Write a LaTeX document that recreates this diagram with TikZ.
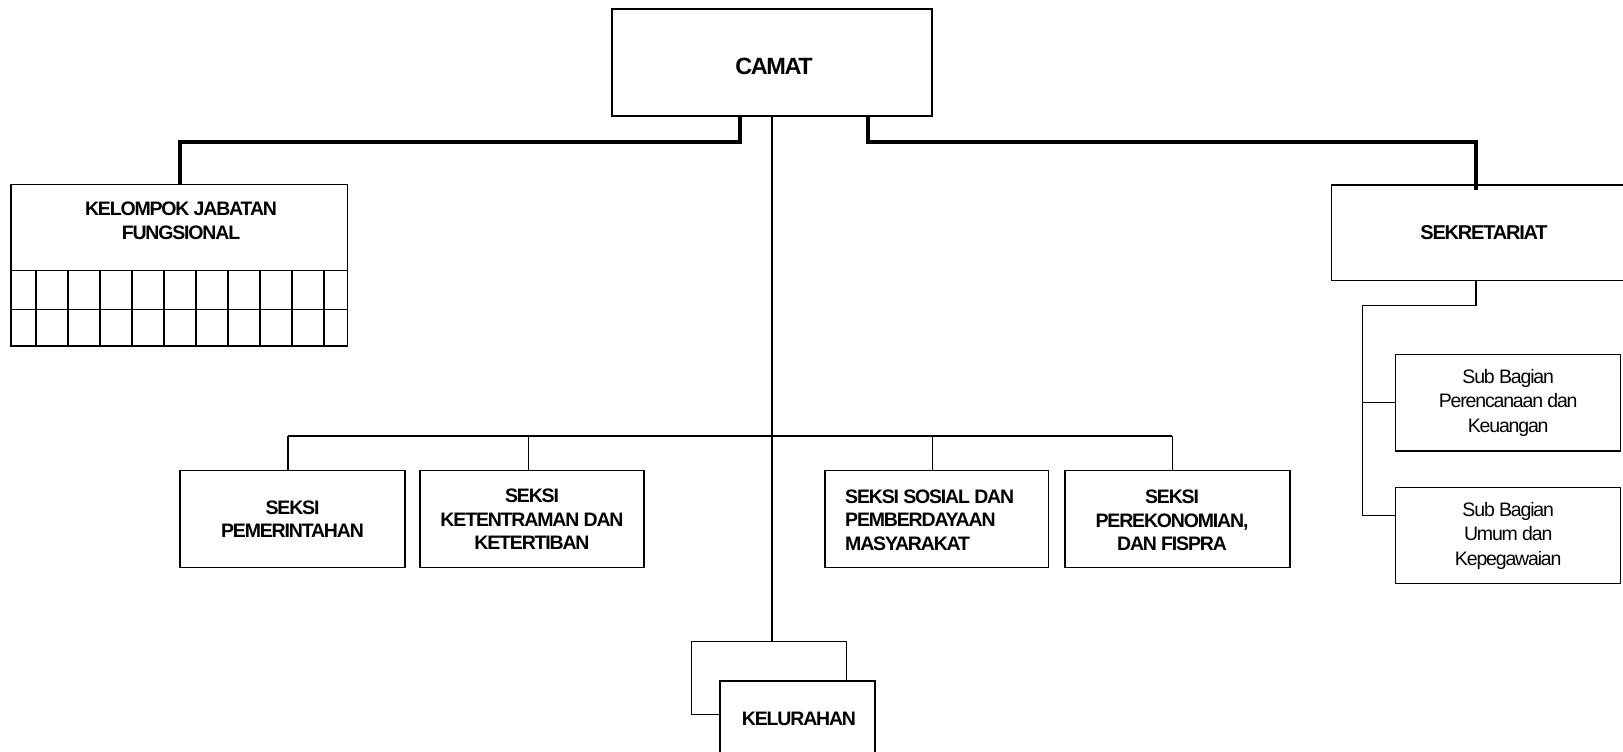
\documentclass[tikz,border=0pt]{standalone}
\usepackage{fontspec}
\setmainfont{Liberation Sans}
\newfontfamily\headfont[LetterSpace=-6]{Liberation Sans Bold}
\newfontfamily\subfont[LetterSpace=-6]{Liberation Sans}
\begin{document}
\begin{tikzpicture}[x=1pt,y=-1pt,
  box/.style={draw=black,line width=1.3pt,rectangle,inner sep=0pt,align=center,fill=white},
  headtext/.style={font=\headfont\fontsize{19.5}{23.5}\selectfont,align=center,inner sep=0pt},
  subtext/.style={font=\subfont\fontsize{19.5}{24.5}\selectfont,align=center,inner sep=0pt},
  thinline/.style={draw=black,line width=1.3pt},
  thickline/.style={draw=black,line width=3.3pt}]
\clip (0,0) rectangle (1623,752);
\fill[white] (0,0) rectangle (1623,752);

% top office
\node[box,minimum width=320pt,minimum height=107pt] (camat) at (772,62.5) {};
\node[headtext,font=\headfont\fontsize{23.5}{27}\selectfont] (camattext) at (774,66) {CAMAT};

% functional group, with its grid of posts
\node[box,minimum width=336.7pt,minimum height=161.7pt] (kjf) at (179.35,265.15) {};
\node[headtext] (kjftext) at (181,221) {KELOMPOK JABATAN\\FUNGSIONAL};
\draw[thinline] (kjf.west |- 0,270.7) -- (kjf.east |- 0,270.7);
\draw[thinline] (kjf.west |- 0,309.3) -- (kjf.east |- 0,309.3);
\foreach \k in {0,...,9}
  \draw[thinline] (36+32*\k,270.7) -- (36+32*\k,346);

% secretariat and its sub-sections
\node[box,minimum width=292.3pt,minimum height=95.7pt] (sek) at (1477.85,232.85) {};
\node[headtext,font=\headfont\fontsize{20}{24}\selectfont] (sektext) at (1484,233) {SEKRETARIAT};
\node[box,subtext,minimum width=225pt,minimum height=96.7pt] (sub1) at (1508.2,402.65)
  {Sub Bagian\\Perencanaan dan\\Keuangan};
\node[box,subtext,minimum width=225pt,minimum height=95.6pt] (sub2) at (1508.2,535.5)
  {Sub Bagian\\Umum dan\\Kepegawaian};

% sections
\node[box,headtext,minimum width=225pt,minimum height=97pt] (s1) at (292.5,519.2)
  {SEKSI\\PEMERINTAHAN};
\node[box,headtext,minimum width=224pt,minimum height=97pt] (s2) at (532,519.2)
  {SEKSI\\KETENTRAMAN DAN\\KETERTIBAN};
\node[box,minimum width=223.3pt,minimum height=97pt] (s3) at (936.65,519.2) {};
\node[headtext,align=left,anchor=west] (s3text) at (845,520)
  {SEKSI SOSIAL DAN\\PEMBERDAYAAN\\MASYARAKAT};
\node[box,headtext,minimum width=225pt,minimum height=97pt] (s4) at (1177.5,519.2) {};
\node[headtext] (s4text) at (1172,520.5) {SEKSI\\PEREKONOMIAN,\\DAN FISPRA};

% villages
\node[box,minimum width=155pt,minimum height=72.6pt] (kelback) at (769.2,678) {};
\node[box,minimum width=155pt,minimum height=75pt] (kel) at (797.5,718.5) {};
\node[headtext] (keltext) at (799,719) {KELURAHAN};

% line of command from the top office
\coordinate (cl) at (740,116);
\coordinate (cr) at (868,116);
\coordinate (sd) at (1476,190);
\draw[thickline] (cl) -- (740,142) -- (180,142) -- (180,184.3);
\draw[thickline] (cr) -- (868,142) -- (1476,142) -- (sd);
\draw[thinline] (camat.south) -- (camat.south |- kelback.north);

% bus to the sections
\coordinate (b1) at (288,436);
\coordinate (b2) at (528.3,436);
\coordinate (b3) at (932.7,436);
\coordinate (b4) at (1172.3,436);
\draw[thinline] (b1) -- (b4);
\draw[thinline] (b1) -- (b1 |- s1.north);
\draw[thinline] (b2) -- (b2 |- s2.north);
\draw[thinline] (b3) -- (b3 |- s3.north);
\draw[thinline] (b4) -- (b4 |- s4.north);

% secretariat to its sub-sections
\coordinate (ss) at (1476,280.7);
\coordinate (sv) at (1362.7,305.7);
\coordinate (sb) at (1362.7,515.7);
\draw[thinline] (ss) -- (ss |- sv) -- (sv) -- (sb) -- (sb -| sub2.west);
\draw[thinline] (sv |- sub1.west) -- (sub1.west);
\end{tikzpicture}
\end{document}
